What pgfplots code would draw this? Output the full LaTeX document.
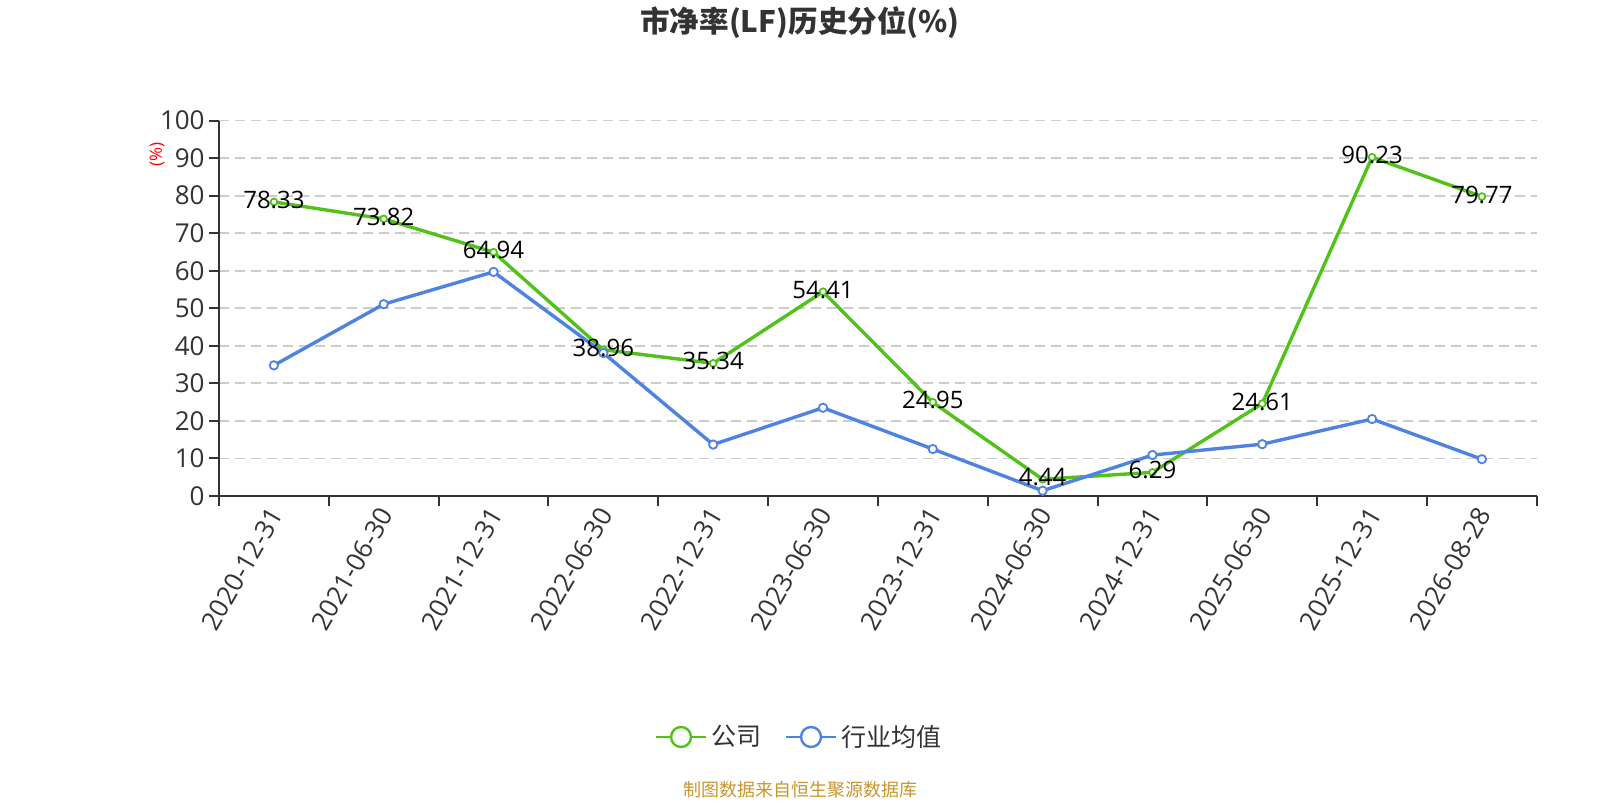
\documentclass[border=0pt]{standalone}
\usepackage{pgfplots}
\pgfplotsset{compat=1.18}
\usepackage{fontspec}
\setmainfont{Open Sans}
\newfontfamily\cjk{Noto Sans CJK SC}
\definecolor{cgreen}{RGB}{82,194,26}
\definecolor{cblue}{RGB}{78,131,226}
\definecolor{ctext}{RGB}{51,51,51}
\definecolor{cgrid}{RGB}{204,204,204}
\definecolor{csrc}{RGB}{200,150,45}
\begin{document}
\begin{tikzpicture}
\path (0,0) rectangle (800pt,400pt);
\node[font=\cjk\fontsize{14.8pt}{18pt}\selectfont\bfseries, text=ctext] at (400pt,388.5pt) {市净率(LF)历史分位(\%)};
\node[font=\cjk\fontsize{9pt}{11pt}\selectfont, text=csrc] at (400pt,5pt) {制图数据来自恒生聚源数据库};
\begin{axis}[
  at={(109.5pt,152pt)}, anchor=south west,
  scale only axis, width=658.9pt, height=187.7pt,
  xmin=-0.5, xmax=11.5, ymin=0, ymax=100,
  clip=false,
  axis lines=left, axis line style={-, draw=ctext, line width=1pt},
  xtick={0,...,11},
  xticklabels={2020-12-31,2021-06-30,2021-12-31,2022-06-30,2022-12-31,2023-06-30,2023-12-31,2024-06-30,2024-12-31,2025-06-30,2025-12-31,2026-08-28},
  minor xtick={-0.5,0.5,...,11.5},
  major x tick style={draw=none},
  minor x tick style={draw=ctext, line width=1pt},
  ytick={0,10,...,100},
  y tick style={draw=ctext, line width=1pt},
  tick align=outside,
  major tick length=5pt, minor tick length=5pt,
  ymajorgrids, grid style={cgrid, line width=0.9pt, dash pattern=on 5pt off 3pt},
  /pgf/number format/assume math mode=true,
  ticklabel style={font=\fontsize{13pt}{15pt}\selectfont, text=ctext},
  xticklabel style={rotate=60, anchor=east, inner sep=1pt, yshift=-2pt},
  yticklabel style={inner sep=2pt},
  legend style={at={(0.4409,-0.642)}, anchor=center, draw=none, fill=none,
    legend columns=2, font=\cjk\fontsize{12.5pt}{14pt}\selectfont, text=ctext,
    /tikz/every even column/.append style={column sep=10pt}},
  legend cell align=left,
  legend image code/.code={\draw[#1, line width=1pt] (0pt,0pt) -- (25pt,0pt);
    \draw[#1, line width=1.2pt, fill=white] (12.5pt,0pt) circle (5pt);},
  every node near coord/.append style={font=\fontsize{12pt}{14pt}\selectfont, text=black, anchor=center, yshift=1pt},
]
\addplot[cgreen, line width=1.7pt, mark=*, mark size=1.7pt, mark options={fill=white, line width=0.9pt}]
  coordinates {(0,78.33)(1,73.82)(2,64.94)(3,38.96)(4,35.34)(5,54.41)(6,24.95)(7,4.44)(8,6.29)(9,24.61)(10,90.23)(11,79.77)};
\addlegendentry{公司}
\addplot[cblue, line width=1.7pt, mark=*, mark size=2.1pt, mark options={fill=white, line width=0.9pt}]
  coordinates {(0,34.8)(1,51.1)(2,59.7)(3,38.1)(4,13.7)(5,23.5)(6,12.5)(7,1.4)(8,10.9)(9,13.8)(10,20.5)(11,9.8)};
\addlegendentry{行业均值}
\addplot[draw=none, forget plot, nodes near coords, point meta=explicit symbolic]
  coordinates {(0,78.33)[78.33](1,73.82)[73.82](2,64.94)[64.94](3,38.96)[38.96](4,35.34)[35.34](5,54.41)[54.41](6,24.95)[24.95](7,4.44)[4.44](8,6.29)[6.29](9,24.61)[24.61](10,90.23)[90.23](11,79.77)[79.77]};
\node[rotate=90, text=red, font=\fontsize{8.5pt}{10pt}\selectfont] at (rel axis cs:-0.047,0.909) {(\%)};
\end{axis}
\end{tikzpicture}
\end{document}
